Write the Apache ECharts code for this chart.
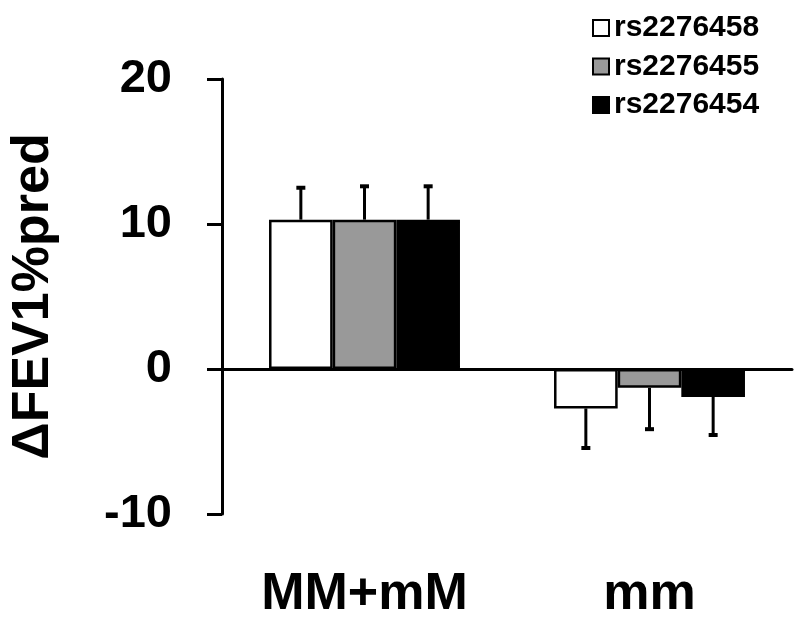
<!DOCTYPE html>
<html>
<head>
<meta charset="utf-8">
<script src="https://cdn.jsdelivr.net/npm/echarts@6/dist/echarts.min.js"></script>
<style>html,body{margin:0;padding:0;background:#fff;}#c{width:800px;height:621px;}</style>
</head>
<body>
<div id="c"></div>
<script>
var categories = ['MM+mM', 'mm'];
var seriesNames = ['rs2276458', 'rs2276455', 'rs2276454'];
var means_rs2276458 = [10.3, -2.72];
var means_rs2276455 = [10.3, -1.3];
var means_rs2276454 = [10.3, -1.93];
var err_rs2276458 = [2.2, 2.73];
var err_rs2276455 = [2.3, 2.85];
var err_rs2276454 = [2.3, 2.62];
var yTicks = [-10, 0, 10, 20];

var means = [means_rs2276458, means_rs2276455, means_rs2276454];
var errs = [err_rs2276458, err_rs2276455, err_rs2276454];
var fills = ['#ffffff', '#999999', '#000000'];
var catGap = 0.33;
var FONT = '"Liberation Sans", Arial, sans-serif';

var series = [];
seriesNames.forEach(function (name, i) {
  series.push({
    name: name,
    type: 'bar',
    xAxisIndex: 0,
    data: means[i],
    barGap: '0%',
    barCategoryGap: (catGap * 100) + '%',
    itemStyle: { color: fills[i], borderColor: '#000', borderWidth: 2.5 },
    emphasis: { disabled: true },
    z: 2
  });
});
seriesNames.forEach(function (name, i) {
  series.push({
    type: 'custom',
    xAxisIndex: 0,
    data: categories.map(function (c, k) { return [k, means[i][k], errs[i][k]]; }),
    z: 3,
    renderItem: function (params, api) {
      var k = api.value(0), m = api.value(1), e = api.value(2);
      var end = m >= 0 ? m + e : m - e;
      var p0 = api.coord([k, m]);
      var p1 = api.coord([k, end]);
      var band = api.size([1, 0])[0];
      var groupW = band * (1 - catGap);
      var barW = groupW / 3;
      var x = p0[0] - groupW / 2 + barW * (i + 0.5);
      return {
        type: 'group',
        children: [
          { type: 'line', shape: { x1: x, y1: p0[1], x2: x, y2: p1[1] }, style: { stroke: '#000', lineWidth: 3 } },
          { type: 'line', shape: { x1: x - 4.5, y1: p1[1], x2: x + 4.5, y2: p1[1] }, style: { stroke: '#000', lineWidth: 4 } }
        ]
      };
    }
  });
});

var chart = echarts.init(document.getElementById('c'));
chart.setOption({
  animation: false,
  backgroundColor: '#ffffff',
  grid: { left: 222, right: 8, top: 79, bottom: 107 },
  legend: {
    data: seriesNames,
    orient: 'vertical',
    left: 587,
    top: 8,
    itemWidth: 16,
    itemHeight: 16,
    itemGap: 8.5,
    icon: 'rect',
    textStyle: { fontFamily: FONT, fontWeight: 'bold', fontSize: 30, color: '#000', lineHeight: 30 }
  },
  xAxis: [
    {
      type: 'category',
      data: categories,
      position: 'bottom',
      axisLine: { show: false, onZero: false },
      axisTick: { show: false },
      axisLabel: { fontFamily: FONT, fontWeight: 'bold', fontSize: 52, color: '#000', margin: 55 }
    },
    {
      type: 'category',
      data: categories,
      position: 'bottom',
      axisLine: { show: true, onZero: true, lineStyle: { color: '#000', width: 3 } },
      axisTick: { show: false },
      axisLabel: { show: false }
    }
  ],
  yAxis: {
    type: 'value',
    min: yTicks[0],
    max: yTicks[yTicks.length - 1],
    interval: 10,
    name: 'ΔFEV1%pred',
    nameLocation: 'middle',
    nameGap: 162,
    nameTextStyle: { fontFamily: FONT, fontWeight: 'bold', fontSize: 52, color: '#000' },
    axisLine: { show: true, lineStyle: { color: '#000', width: 3 } },
    axisTick: { show: true, length: 15, lineStyle: { color: '#000', width: 3 } },
    axisLabel: { fontFamily: FONT, fontWeight: 'bold', fontSize: 47, color: '#000', margin: 50 },
    splitLine: { show: false }
  },
  series: series
});
</script>
</body>
</html>
